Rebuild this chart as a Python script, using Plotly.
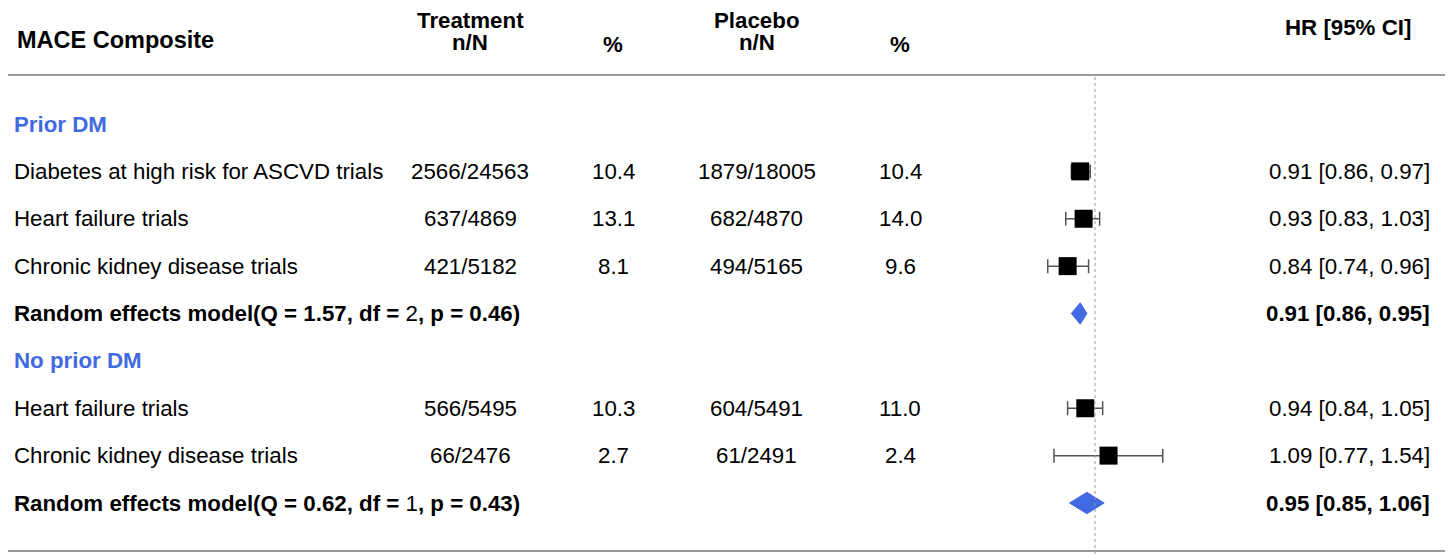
import plotly.graph_objects as go

# ---------------- data ----------------
row_labels = [
    "Prior DM",
    "Diabetes at high risk for ASCVD trials",
    "Heart failure trials",
    "Chronic kidney disease trials",
    "Random effects model(Q = 1.57, df = 2, p = 0.46)",
    "No prior DM",
    "Heart failure trials",
    "Chronic kidney disease trials",
    "Random effects model(Q = 0.62, df = 1, p = 0.43)",
]
row_kind = ["group", "study", "study", "study", "pooled", "group", "study", "study", "pooled"]
trt_nN = ["", "2566/24563", "637/4869", "421/5182", "", "", "566/5495", "66/2476", ""]
trt_pct = ["", "10.4", "13.1", "8.1", "", "", "10.3", "2.7", ""]
pla_nN = ["", "1879/18005", "682/4870", "494/5165", "", "", "604/5491", "61/2491", ""]
pla_pct = ["", "10.4", "14.0", "9.6", "", "", "11.0", "2.4", ""]
hr = [None, 0.91, 0.93, 0.84, 0.91, None, 0.94, 1.09, 0.95]
lo = [None, 0.86, 0.83, 0.74, 0.86, None, 0.84, 0.77, 0.85]
hi = [None, 0.97, 1.03, 0.96, 0.95, None, 1.05, 1.54, 1.06]
hr_text = ["", "0.91 [0.86, 0.97]", "0.93 [0.83, 1.03]", "0.84 [0.74, 0.96]",
           "0.91 [0.86, 0.95]", "", "0.94 [0.84, 1.05]", "1.09 [0.77, 1.54]",
           "0.95 [0.85, 1.06]"]
hdr_label = "MACE Composite"
hdr_trt = ["Treatment", "n/N"]
hdr_pla = ["Placebo", "n/N"]
hdr_pct = "%"
hdr_hr = "HR [95% CI]"

# ---------------- layout constants ----------------
OFF = 8                      # default page body margin
PW, PH = 1453, 554           # page size
W, H = PW - OFF, PH - OFF    # figure size
FONT = "Liberation Sans, Arial, sans-serif"
FS = 22.3
BLUE = "#4169E1"
row0_px, row_step = 124, 47.375          # page px of first row, spacing
y_top = -(row0_px - OFF) / row_step
y_bot = (PH - row0_px) / row_step
ref_px, px_per_decade = 1095, 361.5      # page px of HR=1, px per log10 unit
x_lo = -(ref_px - OFF) / px_per_decade
x_hi = (PW - ref_px) / px_per_decade

col_x = [12, 470, 613, 757, 900, 1432]  # page px anchors


def px(xp):
    return (xp - OFF) / W


def py(yp):
    return 1 - (yp - OFF) / H


fig = go.Figure()

# study squares with CIs
sx, sy, em, ep = [], [], [], []
for i, k in enumerate(row_kind):
    if k == "study":
        sx.append(hr[i]); sy.append(i)
        ep.append(hi[i] - hr[i]); em.append(hr[i] - lo[i])
fig.add_trace(go.Scatter(
    x=sx, y=sy, mode="markers",
    marker=dict(symbol="square", size=18, color="black"),
    error_x=dict(type="data", symmetric=False, array=ep, arrayminus=em,
                 color="#555555", thickness=1.5, width=7),
    hoverinfo="skip", showlegend=False))

# pooled diamonds
for i, k in enumerate(row_kind):
    if k == "pooled":
        h = 0.225
        fig.add_trace(go.Scatter(
            x=[lo[i], hr[i], hi[i], hr[i], lo[i]],
            y=[i, i - h, i, i + h, i],
            mode="lines", fill="toself", fillcolor=BLUE,
            line=dict(color=BLUE, width=1),
            hoverinfo="skip", showlegend=False))

# reference line at HR = 1
fig.add_shape(type="line", xref="x", yref="paper", x0=1, x1=1,
              y0=0, y1=py(76), line=dict(color="#999999", width=1, dash="dot"))
# horizontal rules
for yy in (75, 551):
    fig.add_shape(type="line", xref="paper", yref="paper", x0=px(3), x1=px(1449),
                  y0=py(yy), y1=py(yy), line=dict(color="#9a9a9a", width=2))

ann = []
# headers
ann.append(dict(text="<b>%s</b>" % hdr_label, x=px(15), y=py(40), xanchor="left",
                font=dict(color="black", size=23.5, family=FONT)))
for cx, pair in ((col_x[1], hdr_trt), (col_x[3], hdr_pla)):
    ann.append(dict(text="<b>%s</b>" % pair[0], x=px(cx), y=py(20), xanchor="center"))
    ann.append(dict(text="<b>%s</b>" % pair[1], x=px(cx), y=py(42), xanchor="center"))
for cx in (col_x[2], col_x[4]):
    ann.append(dict(text="<b>%s</b>" % hdr_pct, x=px(cx), y=py(45), xanchor="center"))
ann.append(dict(text="<b>%s</b>" % hdr_hr, x=px(1413), y=py(28), xanchor="right"))

for i, lab in enumerate(row_labels):
    k = row_kind[i]
    if k == "group":
        t = "<b>%s</b>" % lab
        col = BLUE
    elif k == "pooled":
        pre, rest = lab.split("df = ")
        num, post = rest.split(",", 1)
        t = "<b>%sdf = </b>%s<b>,%s</b>" % (pre, num, post)
        col = "black"
    else:
        t = lab
        col = "black"
    ann.append(dict(text=t, x=px(col_x[0]), y=i, yref="y", xanchor="left",
                    font=dict(color=col, size=FS, family=FONT)))
    for j, arr in enumerate([trt_nN, trt_pct, pla_nN, pla_pct]):
        if arr[i]:
            ann.append(dict(text=arr[i], x=px(col_x[j + 1]), y=i, yref="y", xanchor="center"))
    if hr_text[i]:
        tt = "<b>%s</b>" % hr_text[i] if k == "pooled" else hr_text[i]
        ann.append(dict(text=tt, x=px(col_x[5]), y=i, yref="y", xanchor="right"))

for a in ann:
    a.setdefault("yref", "paper")
    a["xref"] = "paper"
    a["showarrow"] = False
    a["yanchor"] = "middle"
    a.setdefault("font", dict(color="black", size=FS, family=FONT))
fig.update_layout(annotations=ann)

fig.update_layout(
    width=W, height=H, margin=dict(l=0, r=0, t=0, b=0),
    paper_bgcolor="white", plot_bgcolor="white",
    font=dict(family=FONT, size=FS, color="black"),
    xaxis=dict(type="log", range=[x_lo, x_hi], visible=False, showgrid=False, zeroline=False),
    yaxis=dict(range=[y_bot, y_top], visible=False, showgrid=False, zeroline=False),
)

fig.write_html("out.html")
